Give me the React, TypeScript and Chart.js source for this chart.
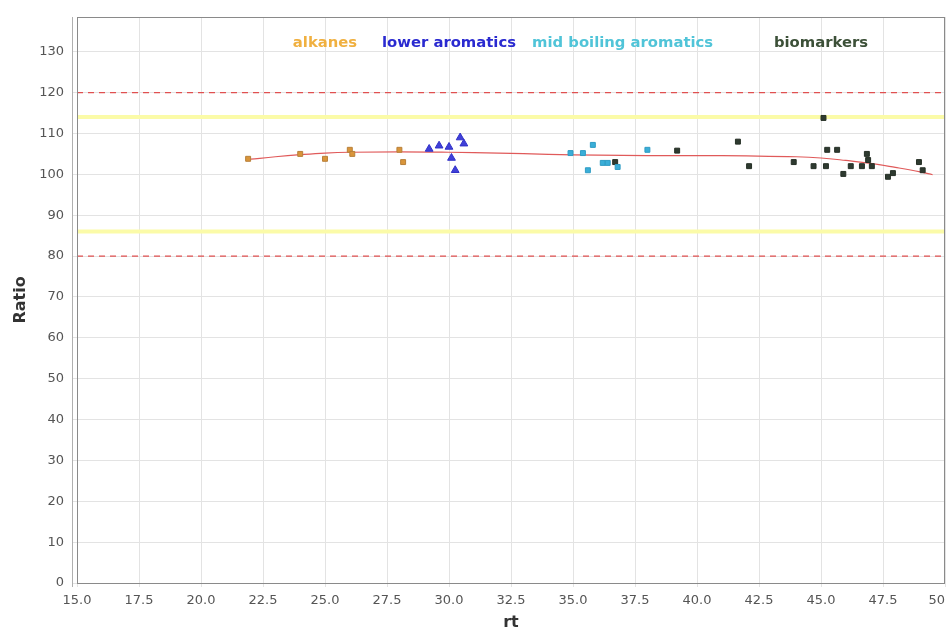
import React, { useEffect, useRef } from "react";
import { Chart, registerables } from "chart.js";

Chart.register(...registerables);

const alkanes = [
  { x: 21.9, y: 103.8 }, { x: 24.0, y: 105.0 }, { x: 25.0, y: 103.8 },
  { x: 26.0, y: 106.0 }, { x: 26.1, y: 105.0 }, { x: 28.0, y: 106.0 }, { x: 28.15, y: 103.0 },
];
const lowerAromatics = [
  { x: 29.2, y: 106.2 }, { x: 29.6, y: 107.0 }, { x: 30.0, y: 106.7 }, { x: 30.1, y: 104.0 },
  { x: 30.25, y: 101.0 }, { x: 30.45, y: 109.0 }, { x: 30.6, y: 107.5 },
];
const midBoiling = [
  { x: 34.9, y: 105.2 }, { x: 35.4, y: 105.2 }, { x: 35.8, y: 107.2 }, { x: 35.6, y: 101.0 },
  { x: 36.2, y: 102.8 }, { x: 36.4, y: 102.8 }, { x: 36.8, y: 101.8 }, { x: 38.0, y: 106.0 },
];
const biomarkers = [
  { x: 36.7, y: 103.0 }, { x: 39.2, y: 105.8 }, { x: 41.65, y: 108.0 }, { x: 42.1, y: 102.0 },
  { x: 43.9, y: 103.0 }, { x: 44.7, y: 102.0 }, { x: 45.1, y: 113.8 }, { x: 45.2, y: 102.0 },
  { x: 45.25, y: 106.0 }, { x: 45.65, y: 106.0 }, { x: 45.9, y: 100.1 }, { x: 46.2, y: 102.0 },
  { x: 46.65, y: 102.0 }, { x: 46.85, y: 105.0 }, { x: 46.9, y: 103.5 }, { x: 47.05, y: 102.0 },
  { x: 47.7, y: 99.4 }, { x: 47.9, y: 100.3 }, { x: 48.95, y: 103.0 }, { x: 49.1, y: 101.0 },
];
const fitX = [22, 23, 24, 25, 26, 28, 30, 32, 34, 36, 38, 40, 42, 44, 45, 46, 47, 48, 49, 49.5];
const fitY = [103.7, 104.3, 104.8, 105.2, 105.4, 105.5, 105.4, 105.2, 104.9, 104.7, 104.6, 104.6, 104.5, 104.3, 104.0, 103.4, 102.7, 101.7, 100.6, 99.9];
const upperLimit = 120;
const lowerLimit = 80;
const upperWarn = 114;
const lowerWarn = 86;
const xRange = [15, 50];
const yRange = [0, 138.5];
const legendLabels = ["alkanes", "lower aromatics", "mid boiling aromatics", "biomarkers"];
const legendX = [25.0, 30.0, 37.0, 45.0];
const legendY = 132;
const legendColors = ["#f0b040", "#2a2ad0", "#50c4d8", "#3c5038"];

const hline = (v: number) => [{ x: xRange[0], y: v }, { x: xRange[1], y: v }];

const textPlugin = {
  id: "texts",
  afterDatasetsDraw(chart: any) {
    const { ctx, chartArea, scales } = chart;
    ctx.save();
    ctx.font = "bold 14.8px 'DejaVu Sans'";
    ctx.textAlign = "center";
    ctx.textBaseline = "middle";
    legendLabels.forEach((t, i) => {
      ctx.fillStyle = legendColors[i];
      ctx.fillText(t, scales.x.getPixelForValue(legendX[i]), scales.y.getPixelForValue(legendY));
    });
    ctx.strokeStyle = "#8a8a8a";
    ctx.lineWidth = 1;
    ctx.strokeRect(chartArea.left + 0.5, chartArea.top + 0.5, chartArea.right - chartArea.left - 1, chartArea.bottom - chartArea.top);
    ctx.strokeStyle = "#b0b0b0";
    ctx.beginPath();
    ctx.moveTo(chartArea.left - 4.5, chartArea.top);
    ctx.lineTo(chartArea.left - 4.5, chartArea.bottom + 4);
    ctx.stroke();
    ctx.restore();
  },
};

export default function App() {
  const ref = useRef<HTMLCanvasElement>(null);
  useEffect(() => {
    const lineOpts = { showLine: true, pointRadius: 0, order: 10 };
    const chart = new Chart(ref.current!, {
      type: "scatter",
      data: {
        datasets: [
          { ...lineOpts, data: hline(upperWarn), borderColor: "#fbfba8", borderWidth: 4 },
          { ...lineOpts, data: hline(lowerWarn), borderColor: "#fbfba8", borderWidth: 4 },
          { ...lineOpts, data: hline(upperLimit), borderColor: "#e05050", borderWidth: 1.2, borderDash: [6, 5] },
          { ...lineOpts, data: hline(lowerLimit), borderColor: "#e05050", borderWidth: 1.2, borderDash: [6, 5] },
          { ...lineOpts, order: 5, data: fitX.map((x, i) => ({ x, y: fitY[i] })), borderColor: "#e05a5a", borderWidth: 1.2, tension: 0.4 },
          { data: alkanes, order: 1, pointStyle: "rect", pointRadius: 3.5, backgroundColor: "#d9953a", borderColor: "#b8803a", borderWidth: 1 },
          { data: lowerAromatics, order: 1, pointStyle: "triangle", pointRadius: 4.5, backgroundColor: "#4040d8", borderColor: "#3030c8", borderWidth: 1 },
          { data: midBoiling, order: 1, pointStyle: "rect", pointRadius: 3.5, backgroundColor: "#3aaed8", borderColor: "#2f9cc4", borderWidth: 1 },
          { data: biomarkers, order: 1, pointStyle: "rect", pointRadius: 3.5, backgroundColor: "#2e3a30", borderColor: "#263026", borderWidth: 1 },
        ],
      },
      options: {
        animation: false,
        responsive: false,
        layout: { padding: { top: 17, right: 0, left: 0, bottom: 0 } },
        plugins: { legend: { display: false }, tooltip: { enabled: false } },
        scales: {
          x: {
            type: "linear",
            min: xRange[0],
            max: xRange[1],
            afterFit: (s: any) => { s.height = 49; s.paddingRight = 6; s.paddingLeft = 0; },
            grid: { color: "#e3e3e3", tickLength: 4 },
            border: { display: false },
            ticks: {
              stepSize: 2.5,
              includeBounds: false,
              autoSkip: false,
              maxRotation: 0,
              padding: 6,
              color: "#555",
              font: { family: "'DejaVu Sans'", size: 13 },
              callback: (v: any) => (Number(v) === 50 ? "50    " : Number(v).toFixed(1)),
            },
            title: { display: true, text: "rt", color: "#333", font: { family: "'DejaVu Sans'", size: 16, weight: "bold" }, padding: { bottom: 0, top: 0 } },
          },
          y: {
            type: "linear",
            min: yRange[0],
            max: yRange[1],
            afterFit: (s: any) => { s.width = 77; },
            grid: { color: "#e3e3e3", tickLength: 4 },
            border: { display: false },
            ticks: {
              stepSize: 10,
              includeBounds: false,
              padding: 9,
              color: "#555",
              font: { family: "'DejaVu Sans'", size: 13 },
            },
            title: { display: true, text: "Ratio", color: "#333", font: { family: "'DejaVu Sans'", size: 16, weight: "bold" }, padding: { top: 11, bottom: 0 } },
          },
        },
      },
      plugins: [textPlugin],
    } as any);
    return () => chart.destroy();
  }, []);
  return (
    <div style={{ position: "fixed", left: 0, top: 0, width: 951, height: 632, background: "#fff" }}>
      <canvas ref={ref} width={951} height={632} />
    </div>
  );
}
